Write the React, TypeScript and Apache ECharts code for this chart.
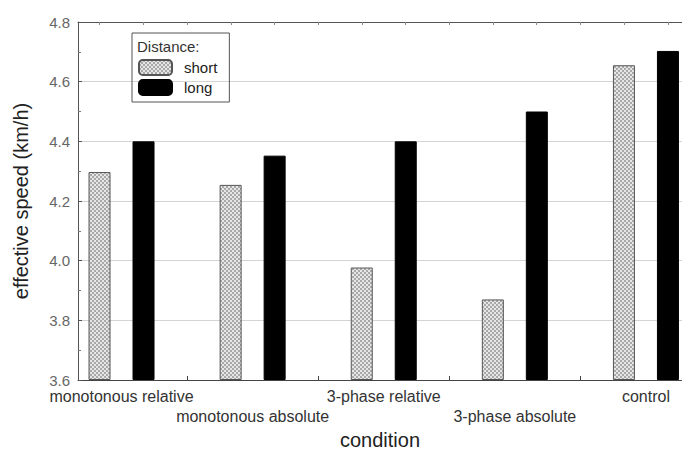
import React, { useEffect, useRef } from "react";
import * as echarts from "echarts";

const categories = [
  "monotonous relative",
  "monotonous absolute",
  "3-phase relative",
  "3-phase absolute",
  "control",
];
const shortValues = [4.297, 4.254, 3.977, 3.87, 4.655];
const longValues = [4.4, 4.352, 4.4, 4.5, 4.703];
const yTicks = [3.6, 3.8, 4.0, 4.2, 4.4, 4.6, 4.8];
const boundaryTicks = [0.5, 1.5, 2.5, 3.5];
const upperRowLabels = [0, 2, 4];
const lowerRowLabels = [1, 3];

const FONT = "'Liberation Sans', Arial, sans-serif";

function makePattern(): string {
  const c = document.createElement("canvas");
  c.width = 4;
  c.height = 4;
  const ctx = c.getContext("2d")!;
  for (let y = 0; y < 4; y++) {
    for (let x = 0; x < 4; x++) {
      const blk = (Math.floor(x / 2) + Math.floor(y / 2)) % 2;
      ctx.fillStyle = blk === 0 ? "#a8a8a8" : "#e6e6e6";
      ctx.fillRect(x, y, 1, 1);
    }
  }
  return c.toDataURL();
}

export default function App() {
  const ref = useRef<HTMLDivElement>(null);
  useEffect(() => {
    if (!ref.current) return;
    const chart = echarts.init(ref.current, undefined, { renderer: "svg" });
    const pattern = makePattern();
    const topTicks: number[] = [];
    for (let k = 0; k < 15; k++) topTicks.push(-1 / 6 + k / 3);
    const shortData = shortValues.map((v, i) => [i, v]);
    const longData = longValues.map((v, i) => [i, v]);
    const labelStyle = {
      show: true,
      showMinLabel: true,
      showMaxLabel: true,
      hideOverlap: false,
      formatter: (v: number) => categories[Math.round(v)],
      fontSize: 16,
      color: "#333",
      margin: 8,
      fontFamily: FONT,
    };
    chart.setOption({
      animation: false,
      backgroundColor: "#ffffff",
      textStyle: { fontFamily: FONT },
      grid: { left: 78, right: 0, top: 22, bottom: 78 },
      legend: {
        data: ["short", "long"],
        orient: "vertical",
        left: 132,
        top: 33,
        padding: [26, 12, 6, 6],
        itemWidth: 33,
        itemHeight: 15,
        itemGap: 3,
        borderColor: "#555",
        borderWidth: 1,
        textStyle: { fontSize: 15, color: "#222", fontFamily: FONT, padding: [0, 0, 0, 7] },
      },
      graphic: [
        {
          type: "text",
          left: 137,
          top: 39,
          style: { text: "Distance:", fontSize: 15, fill: "#333", fontFamily: FONT },
        },
      ],
      xAxis: [
        {
          type: "value",
          position: "bottom",
          min: -0.332,
          max: 4.275,
          name: "condition",
          nameLocation: "middle",
          nameGap: 50,
          nameTextStyle: { fontSize: 20, color: "#222", fontFamily: FONT },
          axisLine: { show: true, onZero: false, lineStyle: { color: "#444", width: 1 } },
          axisTick: {
            show: true,
            inside: true,
            length: 4,
            customValues: boundaryTicks,
            lineStyle: { color: "#444" },
          },
          axisLabel: { ...labelStyle, customValues: upperRowLabels },
          splitLine: { show: false },
        },
        {
          type: "value",
          position: "bottom",
          offset: 20,
          min: -0.332,
          max: 4.275,
          axisLine: { show: false, onZero: false },
          axisTick: { show: false },
          axisLabel: { ...labelStyle, customValues: lowerRowLabels },
          splitLine: { show: false },
        },
        {
          type: "value",
          position: "top",
          min: -0.332,
          max: 4.275,
          axisLine: { show: true, onZero: false, lineStyle: { color: "#555", width: 1 } },
          axisTick: {
            show: true,
            inside: true,
            length: 3,
            customValues: topTicks,
            lineStyle: { color: "#888" },
          },
          axisLabel: { show: false },
          splitLine: { show: false },
        },
      ],
      yAxis: {
        type: "value",
        min: 3.6,
        max: 4.8,
        interval: 0.2,
        startValue: 3.6,
        name: "effective speed (km/h)",
        nameLocation: "middle",
        nameGap: 47,
        nameTextStyle: { fontSize: 20, color: "#222", fontFamily: FONT },
        axisLine: { show: true, onZero: false, lineStyle: { color: "#555", width: 1 } },
        axisTick: { show: true, inside: true, length: 4, lineStyle: { color: "#555" } },
        minorTick: { show: true, splitNumber: 2, length: 3, lineStyle: { color: "#777" } },
        axisLabel: {
          formatter: (v: number) => (yTicks.some((t) => Math.abs(t - v) < 1e-6) ? v.toFixed(1) : ""),
          fontSize: 15,
          color: "#666",
          margin: 8,
          fontFamily: FONT,
        },
        splitLine: { show: true, lineStyle: { color: "#d4d4d4", width: 1 } },
      },
      series: [
        {
          name: "short",
          type: "bar",
          xAxisIndex: 0,
          data: shortData,
          barWidth: 22,
          barGap: "100%",
          itemStyle: {
            color: { image: pattern, repeat: "repeat", imageWidth: 4, imageHeight: 4 },
            borderColor: "#555",
            borderWidth: 1,
          },
        },
        {
          name: "long",
          type: "bar",
          xAxisIndex: 0,
          data: longData,
          barWidth: 22,
          barGap: "100%",
          itemStyle: { color: "#000000", borderColor: "#000", borderWidth: 1 },
        },
      ],
    });
    return () => chart.dispose();
  }, []);
  return (
    <div
      ref={ref}
      style={{ position: "fixed", left: 0, top: 0, width: 682, height: 458, background: "#fff" }}
    />
  );
}
